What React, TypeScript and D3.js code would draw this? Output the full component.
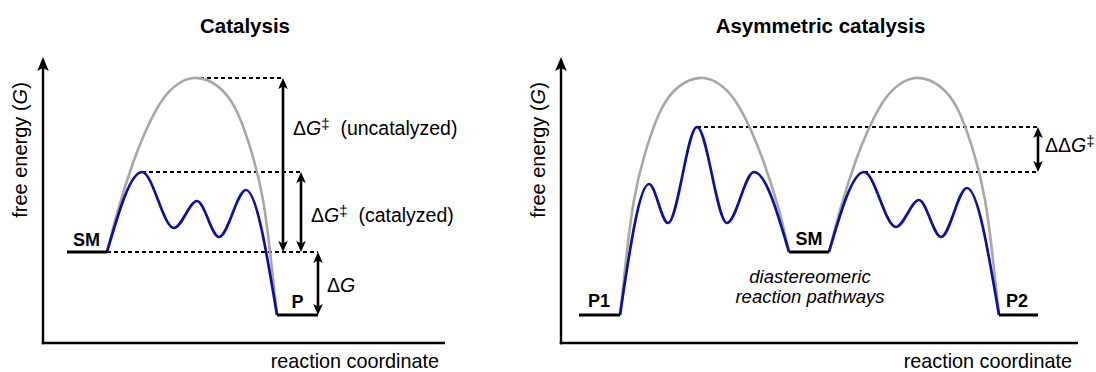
import React from 'react';
import * as d3 from 'd3';

const W = 1096;
const H = 372;

// ---------- Panel 1: Catalysis (reaction coordinate, free energy) ----------
const catUncatalyzed: [number, number][] = [
  [64, 91], [75, 133], [90, 180], [105, 217], [120, 244], [135, 259], [150, 265],
  [165, 262.5], [180, 252], [195, 229], [210, 186], [220, 143], [227, 92], [234, 28],
];
const catCatalyzed: [number, number][] = [
  [64, 91], [99, 171], [131, 115], [154, 142], [176, 106], [203, 153], [234, 28],
];
const catLevels = [
  { label: 'SM', from: 24, to: 64, g: 91 },
  { label: 'P', from: 234, to: 275, g: 28 },
];
const catGuides = [
  { from: 150, to: 240, g: 265 },
  { from: 99, to: 258, g: 171 },
  { from: 64, to: 275, g: 91 },
];
const catArrows = [
  { x: 240, low: 91, high: 265 },
  { x: 258, low: 91, high: 171 },
  { x: 275, low: 28, high: 91 },
];

// ---------- Panel 2: Asymmetric catalysis ----------
const asymArch1: [number, number][] = [
  [59, 28], [66, 92], [73, 143], [83, 186], [98, 229], [113, 252], [128, 262.5],
  [143, 265], [158, 259], [173, 244], [188, 217], [203, 180], [218, 133], [228, 91],
];
const asymArch2: [number, number][] = [
  [268, 91], [279, 133], [294, 180], [309, 217], [324, 244], [339, 259], [354, 265],
  [369, 262.5], [384, 252], [399, 229], [414, 186], [424, 143], [431, 92], [438, 28],
];
const asymPath1: [number, number][] = [
  [59, 28], [88, 159], [107, 120], [136, 216], [166, 120], [193, 171], [228, 91],
];
const asymPath2: [number, number][] = [
  [268, 91], [303, 171], [335, 116], [358, 143], [380, 106], [406, 155], [438, 28],
];
const asymLevels = [
  { label: 'P1', from: 18, to: 59, g: 28 },
  { label: 'SM', from: 228, to: 268, g: 91 },
  { label: 'P2', from: 438, to: 477, g: 28 },
];
const asymGuides = [
  { from: 136, to: 477, g: 216 },
  { from: 303, to: 477, g: 171 },
];
const asymArrows = [{ x: 477, low: 171, high: 216 }];

const FONT = '"Liberation Sans", Arial, Helvetica, sans-serif';
const BLUE = '#0b119e';
const GRAY = '#a7a7a7';

// scales
const yS = d3.scaleLinear().domain([0, 285]).range([343, 58]);
const xL = d3.scaleLinear().domain([0, 402]).range([43, 445]);
const xR = d3.scaleLinear().domain([0, 517]).range([561, 1078]);

function headPath(x: number, tipY: number, up: boolean, len: number, hw: number) {
  const s = up ? 1 : -1;
  return `M${x},${tipY} L${x - hw},${tipY + s * len} L${x},${tipY + s * len * 0.78} L${x + hw},${tipY + s * len} Z`;
}

function DoubleArrow({ x, y1, y2 }: { x: number; y1: number; y2: number }) {
  const len = 11;
  const hw = 4.8;
  return (
    <g>
      <line x1={x} x2={x} y1={y1 + len * 0.7} y2={y2 - len * 0.7} stroke="#000" strokeWidth={2.6} />
      <path d={headPath(x, y1, true, len, hw)} fill="#000" />
      <path d={headPath(x, y2, false, len, hw)} fill="#000" />
    </g>
  );
}

function DG({ x, y, suffix, dd }: { x: number; y: number; suffix?: string; dd?: boolean }) {
  return (
    <text x={x} y={y} fontFamily={FONT} fontSize={19.5} fill="#000">
      <tspan>{dd ? '\u0394\u0394' : '\u0394'}</tspan>
      <tspan fontStyle="italic">G</tspan>
      {suffix !== undefined && (
        <>
          <tspan fontSize={15} dy={-6}>{'\u2021'}</tspan>
          <tspan dy={6}>{suffix}</tspan>
        </>
      )}
    </text>
  );
}

function Panel({
  xs, title, arches, paths, levels, guides, arrows, children,
}: {
  xs: d3.ScaleLinear<number, number>;
  title: string;
  arches: [number, number][][];
  paths: [number, number][][];
  levels: { label: string; from: number; to: number; g: number }[];
  guides: { from: number; to: number; g: number }[];
  arrows: { x: number; low: number; high: number }[];
  children?: React.ReactNode;
}) {
  const pathLine = d3.line<[number, number]>()
    .x((d) => xs(d[0]))
    .y((d) => yS(d[1]))
    .curve(d3.curveMonotoneX);
  const archLine = d3.line<[number, number]>()
    .x((d) => xs(d[0]))
    .y((d) => yS(d[1]))
    .curve(d3.curveNatural);
  const x0 = xs.range()[0];
  const x1 = xs.range()[1];
  const y0 = yS.range()[0];
  const yTop = 57;
  return (
    <g>
      {/* axes */}
      <line x1={x0} x2={x0} y1={yTop + 10} y2={y0 + 1.2} stroke="#000" strokeWidth={2.4} />
      <line x1={x0 - 1.2} x2={x1} y1={y0} y2={y0} stroke="#000" strokeWidth={2.6} />
      <path d={headPath(x0, yTop, true, 14, 5.8)} fill="#000" />
      <text x={(x0 + x1) / 2 + 1} y={33} textAnchor="middle" fontFamily={FONT} fontWeight="bold" fontSize={20.5}>
        {title}
      </text>
      <text x={x1 - 6} y={368} textAnchor="end" fontFamily={FONT} fontSize={19.8}>reaction coordinate</text>
      <text transform={`translate(${x0 - 16},150) rotate(-90)`} textAnchor="middle" fontFamily={FONT} fontSize={20}>
        free energy (<tspan fontStyle="italic">G</tspan>)
      </text>
      {/* guides */}
      {guides.map((g, i) => (
        <line key={i} x1={xs(g.from)} x2={xs(g.to)} y1={yS(g.g)} y2={yS(g.g)} stroke="#000" strokeWidth={1.9} strokeDasharray="4 3" />
      ))}
      {arches.map((a, i) => (
        <path key={i} d={archLine(a) || ''} fill="none" stroke={GRAY} strokeWidth={2.6} />
      ))}
      {paths.map((a, i) => (
        <path key={i} d={pathLine(a) || ''} fill="none" stroke={BLUE} strokeWidth={2.7} />
      ))}
      {levels.map((l, i) => (
        <line key={i} x1={xs(l.from)} x2={xs(l.to)} y1={yS(l.g)} y2={yS(l.g)} stroke="#000" strokeWidth={3} />
      ))}
      {arrows.map((a, i) => (
        <DoubleArrow key={i} x={xs(a.x)} y1={yS(a.high)} y2={yS(a.low)} />
      ))}
      {children}
    </g>
  );
}

export default function App() {
  return (
    <svg width={W} height={H} viewBox={`0 0 ${W} ${H}`} style={{ position: 'absolute', left: 0, top: 0, background: '#fff' }}>
      <rect x={0} y={0} width={W} height={H} fill="#fff" />
      <Panel
        xs={xL}
        title="Catalysis"
        arches={[catUncatalyzed]}
        paths={[catCatalyzed]}
        levels={catLevels}
        guides={catGuides}
        arrows={catArrows}
      >
        <text x={xL(43.5)} y={yS(97)} textAnchor="middle" fontFamily={FONT} fontWeight="bold" fontSize={18}>{catLevels[0].label}</text>
        <text x={xL(254.5)} y={yS(35)} textAnchor="middle" fontFamily={FONT} fontWeight="bold" fontSize={18}>{catLevels[1].label}</text>
        <DG x={xL(250)} y={yS(208)} suffix={'\u00a0\u00a0(uncatalyzed)'} />
        <DG x={xL(268)} y={yS(121)} suffix={'\u00a0\u00a0(catalyzed)'} />
        <DG x={xL(284)} y={yS(51)} />
      </Panel>
      <Panel
        xs={xR}
        title="Asymmetric catalysis"
        arches={[asymArch1, asymArch2]}
        paths={[asymPath1, asymPath2]}
        levels={asymLevels}
        guides={asymGuides}
        arrows={asymArrows}
      >
        <text x={xR(38)} y={yS(36)} textAnchor="middle" fontFamily={FONT} fontWeight="bold" fontSize={18}>{asymLevels[0].label}</text>
        <text x={xR(248)} y={yS(98)} textAnchor="middle" fontFamily={FONT} fontWeight="bold" fontSize={18}>{asymLevels[1].label}</text>
        <text x={xR(456)} y={yS(36)} textAnchor="middle" fontFamily={FONT} fontWeight="bold" fontSize={18}>{asymLevels[2].label}</text>
        <DG x={xR(484)} y={yS(191)} dd suffix="" />
        <text x={xR(249)} y={yS(60)} textAnchor="middle" fontFamily={FONT} fontStyle="italic" fontSize={18.5}>diastereomeric</text>
        <text x={xR(249)} y={yS(40)} textAnchor="middle" fontFamily={FONT} fontStyle="italic" fontSize={18.5}>reaction pathways</text>
      </Panel>
    </svg>
  );
}
